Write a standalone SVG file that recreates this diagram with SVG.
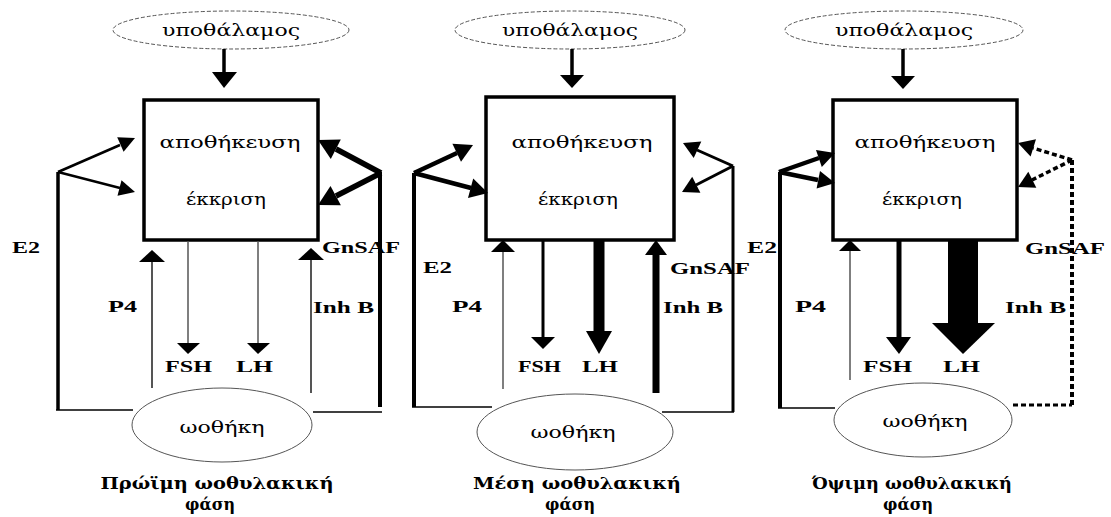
<svg xmlns="http://www.w3.org/2000/svg" width="1111" height="517" viewBox="0 0 1111 517">
<style>
.bg{fill:#fff}
.ell{fill:#fff;stroke:#555;stroke-width:1}
.ellt{fill:#fff;stroke:#555;stroke-width:1;stroke-dasharray:4 2}
.box{fill:#fff;stroke:#000;stroke-width:3.5}
.nt{font-family:"DejaVu Serif","Liberation Serif",serif;font-size:17px;fill:#000;text-anchor:middle}
.lb{font-family:"Liberation Serif","DejaVu Serif",serif;font-size:16px;font-weight:bold;fill:#000}
.cap{font-family:"DejaVu Serif","Liberation Serif",serif;font-size:17px;font-weight:bold;fill:#000;text-anchor:middle}
.ln{stroke:#000;fill:none}
.gr{stroke:#555;fill:none}
.hd{fill:#000;stroke:none}
.dot{stroke:#000;fill:none;stroke-dasharray:5 3}
</style>
<rect class="bg" x="0" y="0" width="1111" height="517"/>

<!-- Panel 1 -->
<g id="hyp1"><ellipse class="ellt" cx="231" cy="30" rx="118" ry="19"/><text class="nt" x="231" y="36" textLength="138" lengthAdjust="spacingAndGlyphs">υποθάλαμος</text></g>
<g id="pit1"><rect class="box" x="144" y="100" width="174" height="140"/><text class="nt" x="230" y="148" textLength="141" lengthAdjust="spacingAndGlyphs">αποθήκευση</text><text class="nt" x="226" y="205" textLength="80" lengthAdjust="spacingAndGlyphs">έκκριση</text></g>
<g id="ov1"><ellipse class="ell" cx="222" cy="425" rx="90" ry="37"/><text class="nt" x="222" y="433" textLength="85" lengthAdjust="spacingAndGlyphs">ωοθήκη</text></g>
<g id="lab1">
<text class="lb" x="12" y="253" textLength="28" lengthAdjust="spacingAndGlyphs">E2</text>
<text class="lb" x="108" y="312" textLength="29" lengthAdjust="spacingAndGlyphs">P4</text>
<text class="lb" x="322" y="253" textLength="78" lengthAdjust="spacingAndGlyphs">GnSAF</text>
<text class="lb" x="313" y="313" textLength="61" lengthAdjust="spacingAndGlyphs">Inh B</text>
<text class="lb" x="165" y="372" textLength="47" lengthAdjust="spacingAndGlyphs">FSH</text>
<text class="lb" x="236" y="372" textLength="37" lengthAdjust="spacingAndGlyphs">LH</text>
<text class="cap" x="217" y="489" textLength="233" lengthAdjust="spacingAndGlyphs">Πρώϊμη ωοθυλακική</text>
<text class="cap" x="210" y="510" textLength="50" lengthAdjust="spacingAndGlyphs">φάση</text>
</g>

<!-- Panel 2 -->
<g id="hyp2"><ellipse class="ellt" cx="570" cy="30" rx="115" ry="19"/><text class="nt" x="570" y="36" textLength="136" lengthAdjust="spacingAndGlyphs">υποθάλαμος</text></g>
<g id="pit2"><rect class="box" x="486" y="97" width="188" height="143"/><text class="nt" x="582" y="148" textLength="141" lengthAdjust="spacingAndGlyphs">αποθήκευση</text><text class="nt" x="578" y="205" textLength="80" lengthAdjust="spacingAndGlyphs">έκκριση</text></g>
<g id="ov2"><ellipse class="ell" cx="575" cy="432" rx="98" ry="38"/><text class="nt" x="573" y="438" textLength="85" lengthAdjust="spacingAndGlyphs">ωοθήκη</text></g>
<g id="lab2">
<text class="lb" x="423" y="273" textLength="29" lengthAdjust="spacingAndGlyphs">E2</text>
<text class="lb" x="452" y="312" textLength="30" lengthAdjust="spacingAndGlyphs">P4</text>
<text class="lb" x="670" y="274" textLength="80" lengthAdjust="spacingAndGlyphs">GnSAF</text>
<text class="lb" x="663" y="313" textLength="60" lengthAdjust="spacingAndGlyphs">Inh B</text>
<text class="lb" x="518" y="372" textLength="43" lengthAdjust="spacingAndGlyphs">FSH</text>
<text class="lb" x="582" y="372" textLength="36" lengthAdjust="spacingAndGlyphs">LH</text>
<text class="cap" x="577" y="489" textLength="208" lengthAdjust="spacingAndGlyphs">Μέση ωοθυλακική</text>
<text class="cap" x="570" y="510" textLength="50" lengthAdjust="spacingAndGlyphs">φάση</text>
</g>

<!-- Panel 3 -->
<g id="hyp3"><ellipse class="ellt" cx="904" cy="30" rx="119" ry="19"/><text class="nt" x="904" y="36" textLength="138" lengthAdjust="spacingAndGlyphs">υποθάλαμος</text></g>
<g id="pit3"><rect class="box" x="833" y="100" width="184" height="140"/><text class="nt" x="925" y="148" textLength="141" lengthAdjust="spacingAndGlyphs">αποθήκευση</text><text class="nt" x="922" y="205" textLength="80" lengthAdjust="spacingAndGlyphs">έκκριση</text></g>
<g id="ov3"><ellipse class="ell" cx="923" cy="420" rx="89" ry="37"/><text class="nt" x="925" y="427" textLength="85" lengthAdjust="spacingAndGlyphs">ωοθήκη</text></g>
<g id="lab3">
<text class="lb" x="747" y="253" textLength="30" lengthAdjust="spacingAndGlyphs">E2</text>
<text class="lb" x="795" y="312" textLength="31" lengthAdjust="spacingAndGlyphs">P4</text>
<text class="lb" x="1025" y="254" textLength="80" lengthAdjust="spacingAndGlyphs">GnSAF</text>
<text class="lb" x="1005" y="313" textLength="61" lengthAdjust="spacingAndGlyphs">Inh B</text>
<text class="lb" x="863" y="372" textLength="49" lengthAdjust="spacingAndGlyphs">FSH</text>
<text class="lb" x="943" y="372" textLength="37" lengthAdjust="spacingAndGlyphs">LH</text>
<text class="cap" x="912" y="489" textLength="200" lengthAdjust="spacingAndGlyphs">Όψιμη ωοθυλακική</text>
<text class="cap" x="908" y="510" textLength="50" lengthAdjust="spacingAndGlyphs">φάση</text>
</g>

<g id="connectors">
<!-- Panel 1 -->
<line class="ln" x1="224" y1="49" x2="224" y2="74" stroke-width="3.5"/>
<polygon class="hd" points="212,72 237,72 224,88"/>
<line class="ln" x1="58" y1="172" x2="58" y2="410" stroke-width="3.5"/>
<line class="ln" x1="56" y1="410" x2="133" y2="410" stroke-width="1.5"/>
<line class="ln" x1="58" y1="172" x2="120" y2="145" stroke-width="2.5"/>
<polygon class="hd" points="135,138 123.6,151.8 117.2,137.2"/>
<line class="ln" x1="58" y1="172" x2="120" y2="188" stroke-width="2.5"/>
<polygon class="hd" points="135,192 117.5,195.7 121.5,180.3"/>
<line class="ln" x1="380" y1="172" x2="380" y2="407" stroke-width="4"/>
<line class="ln" x1="313" y1="412" x2="382" y2="412" stroke-width="1.5"/>
<line class="ln" x1="381" y1="173" x2="336" y2="149" stroke-width="5.5"/>
<polygon class="hd" points="318,140 340.8,139.4 330.8,159"/>
<line class="ln" x1="381" y1="173" x2="336" y2="196" stroke-width="5.5"/>
<polygon class="hd" points="318,205 340.9,205.3 330.5,185.9"/>
<line class="gr" x1="152" y1="388" x2="152" y2="260" stroke-width="2"/>
<polygon class="hd" points="152,250 139,262 165,262"/>
<line class="gr" x1="311" y1="393" x2="311" y2="258" stroke-width="2"/>
<polygon class="hd" points="311,248 298,260 324,260"/>
<line class="gr" x1="188" y1="241" x2="188" y2="345" stroke-width="1.5"/>
<polygon class="hd" points="177,343 200,343 188,354"/>
<line class="gr" x1="258" y1="241" x2="258" y2="345" stroke-width="1.5"/>
<polygon class="hd" points="247,343 270,343 258,354"/>

<!-- Panel 2 -->
<line class="ln" x1="572" y1="49" x2="572" y2="77" stroke-width="3.5"/>
<polygon class="hd" points="560,75 584,75 572,88"/>
<line class="ln" x1="414" y1="173" x2="414" y2="407" stroke-width="4"/>
<line class="ln" x1="412" y1="407" x2="492" y2="407" stroke-width="1.5"/>
<line class="ln" x1="414" y1="173" x2="457" y2="153" stroke-width="4.5"/>
<polygon class="hd" points="473,145 461,161.7 452.4,143.7"/>
<line class="ln" x1="414" y1="173" x2="471" y2="188" stroke-width="4.5"/>
<polygon class="hd" points="488,193 468,198 473.2,178.6"/>
<line class="ln" x1="733" y1="166" x2="733" y2="412" stroke-width="3"/>
<line class="ln" x1="662" y1="412" x2="734" y2="412" stroke-width="1.5"/>
<line class="ln" x1="733" y1="166" x2="697" y2="150" stroke-width="3"/>
<polygon class="hd" points="683,143 701.3,141.5 693.7,157.9"/>
<line class="ln" x1="733" y1="166" x2="696" y2="185" stroke-width="3"/>
<polygon class="hd" points="682,192 700.4,192.7 692.2,176.7"/>
<line class="gr" x1="503" y1="389" x2="503" y2="250" stroke-width="1.5"/>
<polygon class="hd" points="503,240 491,252 515,252"/>
<line class="ln" x1="656" y1="393" x2="656" y2="252" stroke-width="7"/>
<polygon class="hd" points="656,240 645,255 667,255"/>
<line class="ln" x1="543" y1="241" x2="543" y2="340" stroke-width="3"/>
<polygon class="hd" points="531,337 555,337 543,349"/>
<line class="ln" x1="599" y1="241" x2="599" y2="333" stroke-width="11"/>
<polygon class="hd" points="586,331 612,331 599,354"/>

<!-- Panel 3 -->
<line class="ln" x1="903" y1="49" x2="903" y2="78" stroke-width="3.5"/>
<polygon class="hd" points="891,76 915,76 903,89"/>
<line class="ln" x1="780" y1="172" x2="780" y2="408" stroke-width="4"/>
<line class="ln" x1="778" y1="408" x2="835" y2="408" stroke-width="1.5"/>
<line class="ln" x1="779" y1="172" x2="819" y2="158" stroke-width="4.5"/>
<polygon class="hd" points="835,153 821.8,167 816,150"/>
<line class="ln" x1="779" y1="172" x2="818" y2="180" stroke-width="4.5"/>
<polygon class="hd" points="835,183 816.6,188.5 820,170.9"/>
<line class="dot" x1="1072" y1="160" x2="1072" y2="405" stroke-width="4"/>
<line class="dot" x1="1013" y1="405" x2="1072" y2="405" stroke-width="3"/>
<line class="dot" x1="1072" y1="160" x2="1033" y2="148" stroke-width="3.5"/>
<polygon class="hd" points="1018,143 1036,139.2 1030.6,156.4"/>
<line class="dot" x1="1072" y1="160" x2="1032" y2="180" stroke-width="3.5"/>
<polygon class="hd" points="1018,187 1036.3,187.8 1028.3,171.8"/>
<line class="gr" x1="850" y1="380" x2="850" y2="248" stroke-width="1.5"/>
<polygon class="hd" points="850,240 839,251 861,251"/>
<line class="ln" x1="899" y1="241" x2="899" y2="340" stroke-width="5"/>
<polygon class="hd" points="886,337 911,337 899,354"/>
<line class="ln" x1="963" y1="241" x2="963" y2="325" stroke-width="30"/>
<polygon class="hd" points="932,323 995,323 963,354"/>
</g>
</svg>
